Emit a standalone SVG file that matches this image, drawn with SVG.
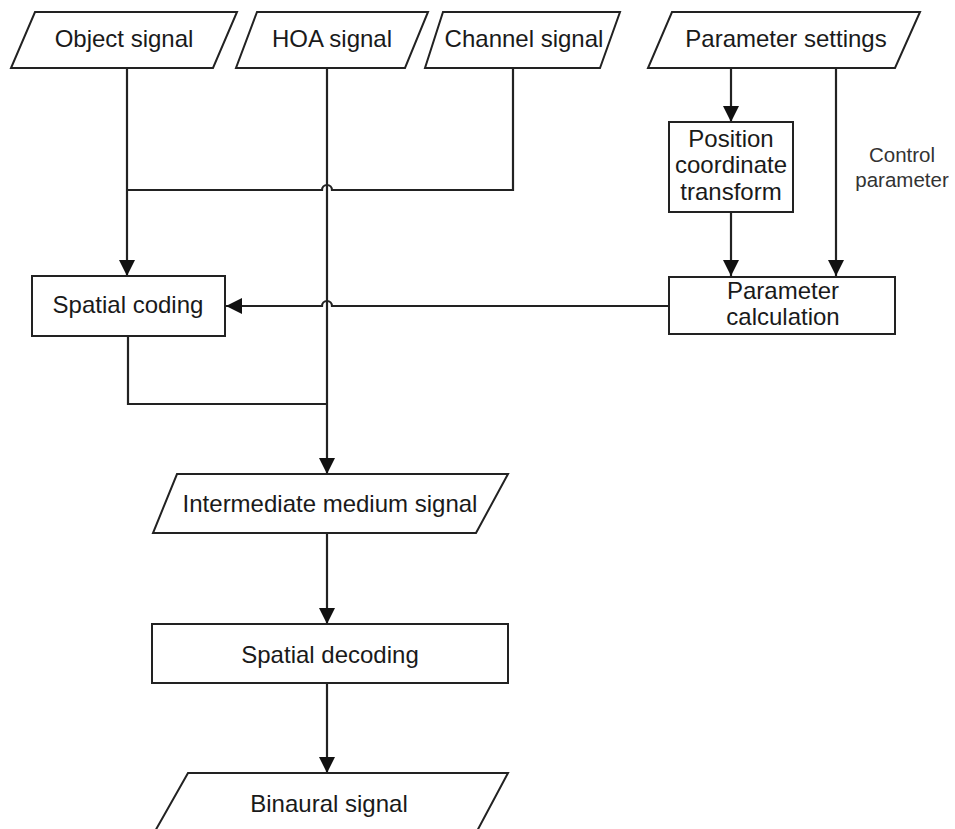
<svg xmlns="http://www.w3.org/2000/svg" width="955" height="829" viewBox="0 0 955 829">
  <style>
    .shape { fill: #ffffff; stroke: #222222; stroke-width: 2; }
    .wire { fill: none; stroke: #222222; stroke-width: 2.2; }
    .label { font-family: "Liberation Sans", Arial, sans-serif; font-size: 24px; fill: #1a1a1a; text-anchor: middle; }
    .note { font-family: "Liberation Sans", Arial, sans-serif; font-size: 20.5px; fill: #333333; text-anchor: middle; }
  </style>
  <defs>
    <marker id="arrow" viewBox="0 0 16 16" refX="16" refY="8" markerWidth="16" markerHeight="16" markerUnits="userSpaceOnUse" orient="auto">
      <path d="M0,0 L16,8 L0,16 Z" fill="#111111"/>
    </marker>
  </defs>

  <rect width="955" height="829" fill="#ffffff"/>

  <!-- connectors -->
  <g id="connectors">
    <!-- object signal down to spatial coding -->
    <path class="wire" d="M127,69 V276" marker-end="url(#arrow)"/>
    <!-- channel signal joins the object line, hopping over the HOA line -->
    <path class="wire" d="M513,69 V190 H332 A5,5 0 0 0 322,190 H127"/>
    <!-- HOA signal down to intermediate medium signal -->
    <path class="wire" d="M327,69 V474" marker-end="url(#arrow)"/>
    <!-- spatial coding output merges into the HOA line -->
    <path class="wire" d="M128,336 V404 H327"/>
    <!-- parameter calculation to spatial coding, hopping over the HOA line -->
    <path class="wire" d="M669,306 H332 A5,5 0 0 0 322,306 H226" marker-end="url(#arrow)"/>
    <!-- parameter settings to position coordinate transform -->
    <path class="wire" d="M731,69 V122" marker-end="url(#arrow)"/>
    <!-- position coordinate transform to parameter calculation -->
    <path class="wire" d="M731,212 V276" marker-end="url(#arrow)"/>
    <!-- control parameter line -->
    <path class="wire" d="M836,69 V276" marker-end="url(#arrow)"/>
    <!-- intermediate medium signal to spatial decoding -->
    <path class="wire" d="M327,533 V624" marker-end="url(#arrow)"/>
    <!-- spatial decoding to binaural signal -->
    <path class="wire" d="M327,683 V773" marker-end="url(#arrow)"/>
    <text class="note" x="902" y="162">Control</text>
    <text class="note" x="902" y="187">parameter</text>
  </g>

  <g id="object-signal">
    <polygon class="shape" points="35,12 237,12 213,68 11,68"/>
    <text class="label" x="124" y="47">Object signal</text>
  </g>

  <g id="hoa-signal">
    <polygon class="shape" points="257,12 428,12 405,68 236,68"/>
    <text class="label" x="332" y="47">HOA signal</text>
  </g>

  <g id="channel-signal">
    <polygon class="shape" points="443,12 620,12 600,68 425,68"/>
    <text class="label" x="524" y="47">Channel signal</text>
  </g>

  <g id="parameter-settings">
    <polygon class="shape" points="672,12 920,12 895,68 648,68"/>
    <text class="label" x="786" y="47">Parameter settings</text>
  </g>

  <g id="position-coordinate-transform">
    <rect class="shape" x="669" y="122" width="124" height="90"/>
    <text class="label" x="731" y="147">Position</text>
    <text class="label" x="731" y="173">coordinate</text>
    <text class="label" x="731" y="200">transform</text>
  </g>

  <g id="spatial-coding">
    <rect class="shape" x="32" y="276" width="193" height="60"/>
    <text class="label" x="128" y="313">Spatial coding</text>
  </g>

  <g id="parameter-calculation">
    <rect class="shape" x="669" y="277" width="226" height="57"/>
    <text class="label" x="783" y="299">Parameter</text>
    <text class="label" x="783" y="325">calculation</text>
  </g>

  <g id="intermediate-medium-signal">
    <polygon class="shape" points="177,474 508,474 476,533 153,533"/>
    <text class="label" x="330" y="512">Intermediate medium signal</text>
  </g>

  <g id="spatial-decoding">
    <rect class="shape" x="152" y="624" width="356" height="59"/>
    <text class="label" x="330" y="663">Spatial decoding</text>
  </g>

  <g id="binaural-signal">
    <polygon class="shape" points="188,773 508,773 476,833 154,833"/>
    <text class="label" x="329" y="812">Binaural signal</text>
  </g>
</svg>
